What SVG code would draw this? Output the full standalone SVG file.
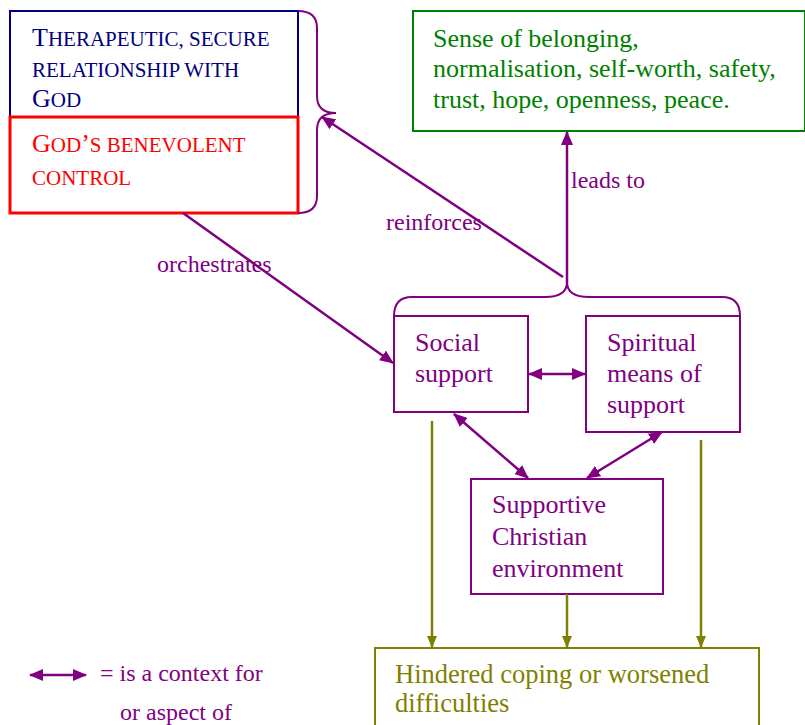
<svg xmlns="http://www.w3.org/2000/svg" width="805" height="725" viewBox="0 0 805 725">
<style>
text{font-family:"Liberation Serif","Times New Roman",serif;font-size:26px}
.p{fill:#800080}.g{fill:#008000}.o{fill:#808000}.n{fill:#000080}.r{fill:#ff0000}
.sc{font-size:21px}
.lb{font-size:24px}
.hd{font-size:26.5px}
.box{fill:#fff;stroke-width:2}
.pc{stroke:#800080;stroke-width:2.5;fill:none}
.oc{stroke:#808000;stroke-width:2.5;fill:none}
.br{stroke:#800080;stroke-width:2;fill:none}
</style>
<defs>
<marker id="ap" viewBox="0 0 14 12" refX="13" refY="6" markerWidth="14" markerHeight="12" markerUnits="userSpaceOnUse" orient="auto-start-reverse"><path d="M0,0L14,6L0,12Z" fill="#800080"/></marker>
<marker id="ao" viewBox="0 0 12 10" refX="11" refY="5" markerWidth="12" markerHeight="10" markerUnits="userSpaceOnUse" orient="auto"><path d="M0,0L12,5L0,10Z" fill="#808000"/></marker>
</defs>
<g id="god-relationship">
<rect x="10" y="11" width="288" height="110" class="box" stroke="#000080" stroke-width="1.5"/>
<text x="32" y="46" class="n">T<tspan class="sc">HERAPEUTIC, SECURE</tspan></text>
<text x="32" y="77" class="n"><tspan class="sc">RELATIONSHIP WITH</tspan></text>
<text x="32" y="107" class="n">G<tspan class="sc">OD</tspan></text>
</g>
<g id="god-control">
<rect x="10" y="117" width="288" height="96" fill="#fff" stroke="#ff0000" stroke-width="3"/>
<text x="32" y="152" class="r">G<tspan class="sc">OD</tspan>’<tspan class="sc">S BENEVOLENT</tspan></text>
<text x="32" y="185" class="r"><tspan class="sc">CONTROL</tspan></text>
</g>
<g id="outcomes">
<rect x="413" y="11" width="392" height="120" class="box" stroke="#008000"/>
<text x="433" y="47" class="g">Sense of belonging,</text>
<text x="433" y="77" class="g">normalisation, self-worth, safety,</text>
<text x="433" y="108" class="g">trust, hope, openness, peace.</text>
</g>
<g id="social-support">
<rect x="394" y="316" width="134" height="96" class="box" stroke="#800080"/>
<text x="415" y="351" class="p">Social</text>
<text x="415" y="382" class="p">support</text>
</g>
<g id="spiritual-support">
<rect x="586" y="316" width="154" height="116" class="box" stroke="#800080"/>
<text x="607" y="351" class="p">Spiritual</text>
<text x="607" y="382" class="p">means of</text>
<text x="607" y="413" class="p">support</text>
</g>
<g id="christian-environment">
<rect x="471" y="479" width="192" height="115" class="box" stroke="#800080"/>
<text x="492" y="513" class="p">Supportive</text>
<text x="492" y="545" class="p">Christian</text>
<text x="492" y="577" class="p">environment</text>
</g>
<g id="hindered">
<rect x="375" y="648" width="384" height="80" class="box" stroke="#808000"/>
<text x="395" y="683" class="o hd">Hindered coping or worsened</text>
<text x="395" y="712" class="o hd">difficulties</text>
</g>
<g id="connectors">
<path class="br" d="M298,11Q317,11 317,28L317,96Q317,113 336,113Q317,113 317,130L317,196Q317,213 298,213"/>
<path class="br" d="M394,316Q394,297 412,297L545,297Q567,297 567,282Q567,297 589,297L722,297Q740,297 740,316"/>
<line class="pc" x1="567" y1="283" x2="567" y2="132" marker-end="url(#ap)"/>
<line class="pc" x1="563" y1="277" x2="322" y2="117" marker-end="url(#ap)"/>
<line class="pc" x1="183" y1="213" x2="393" y2="363" marker-end="url(#ap)"/>
<line class="pc" x1="529" y1="374" x2="585" y2="374" marker-start="url(#ap)" marker-end="url(#ap)"/>
<line class="pc" x1="454" y1="414" x2="528" y2="478" marker-start="url(#ap)" marker-end="url(#ap)"/>
<line class="pc" x1="662" y1="432" x2="587" y2="478" marker-start="url(#ap)" marker-end="url(#ap)"/>
<line class="oc" x1="432" y1="421" x2="432" y2="647" marker-end="url(#ao)"/>
<line class="oc" x1="567" y1="594" x2="567" y2="647" marker-end="url(#ao)"/>
<line class="oc" x1="701" y1="440" x2="701" y2="647" marker-end="url(#ao)"/>
<text x="157" y="272" class="p lb">orchestrates</text>
<text x="386" y="230" class="p lb">reinforces</text>
<text x="571" y="188" class="p lb">leads to</text>
</g>
<g id="legend">
<line class="pc" x1="30" y1="675" x2="86" y2="675" marker-start="url(#ap)" marker-end="url(#ap)"/>
<text x="100" y="681" class="p lb">= is a context for</text>
<text x="120" y="720" class="p lb">or aspect of</text>
</g>
</svg>
